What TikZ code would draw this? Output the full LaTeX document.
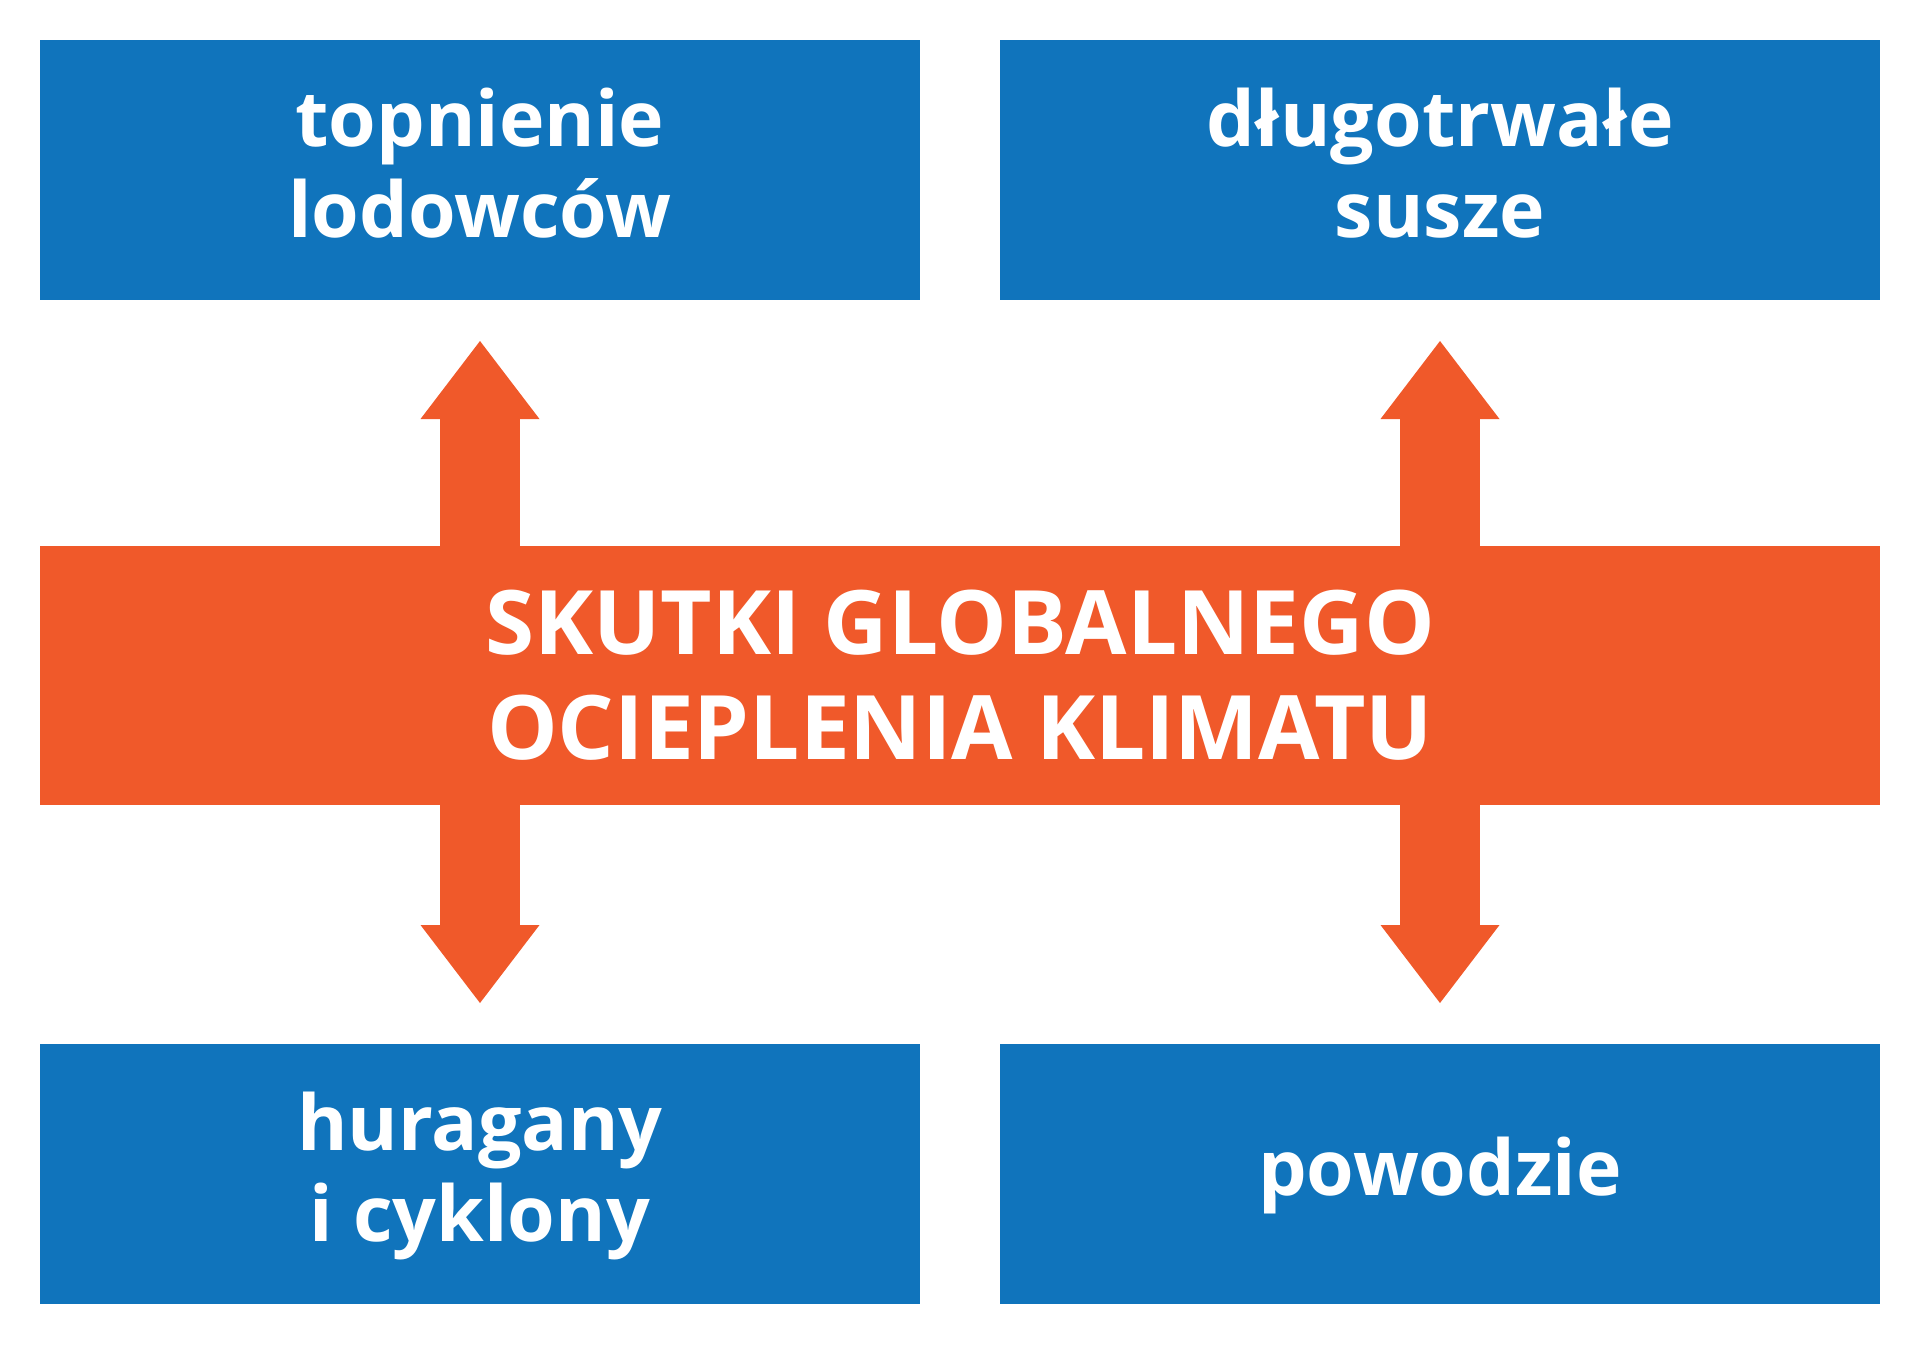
\documentclass[tikz,border=0pt]{standalone}
\usepackage{fontspec}
\setmainfont{Open Sans}
\usetikzlibrary{arrows.meta,positioning}
\definecolor{skutkiblue}{RGB}{16,116,188}
\definecolor{skutkiorange}{RGB}{240,89,42}
\newcommand{\topstrut}{\rule{0pt}{71pt}}

\begin{document}
\begin{tikzpicture}[x=1pt,y=-1pt,outer sep=0pt,
		box/.style={shape=rectangle,fill=skutkiblue,text=white,minimum width=880pt,minimum height=260pt,align=center,font=\fontsize{77}{91}\selectfont\bfseries},
		band/.style={shape=rectangle,fill=skutkiorange,text=white,minimum width=1840pt,minimum height=259pt,align=center,font=\fontsize{89}{105}\selectfont\bfseries},
		bigarrow/.style={draw=skutkiorange,line width=80pt,shorten <=-1pt,shorten >=41pt,-{Triangle[width=119pt,length=78pt,line width=0pt]}}]
	\useasboundingbox (0,0) rectangle (1920,1345);
	\coordinate (mid) at (960,675.5);
	\node (band) [band] at (mid) {SKUTKI GLOBALNEGO\\OCIEPLENIA KLIMATU};
	% struts keep the lines of all four boxes at the same height
	\node (tl) [box] [above right=246pt and 0pt of band.north west] {\topstrut topnienie\\lodowców\strut};
	\node (tr) [box] [above left=246pt and 0pt of band.north east] {\topstrut długotrwałe\\susze\strut};
	\node (bl) [box] [below right=239pt and 0pt of band.south west] {\topstrut huragany\\i cyklony\strut};
	\node (br) [box] [below left=239pt and 0pt of band.south east] {\topstrut powodzie\strut};

	\path[bigarrow] (band.north -| tl.south) -- (tl.south);
	\path[bigarrow] (band.north -| tr.south) -- (tr.south);
	\path[bigarrow] (band.south -| bl.north) -- (bl.north);
	\path[bigarrow] (band.south -| br.north) -- (br.north);
\end{tikzpicture}
\end{document}
